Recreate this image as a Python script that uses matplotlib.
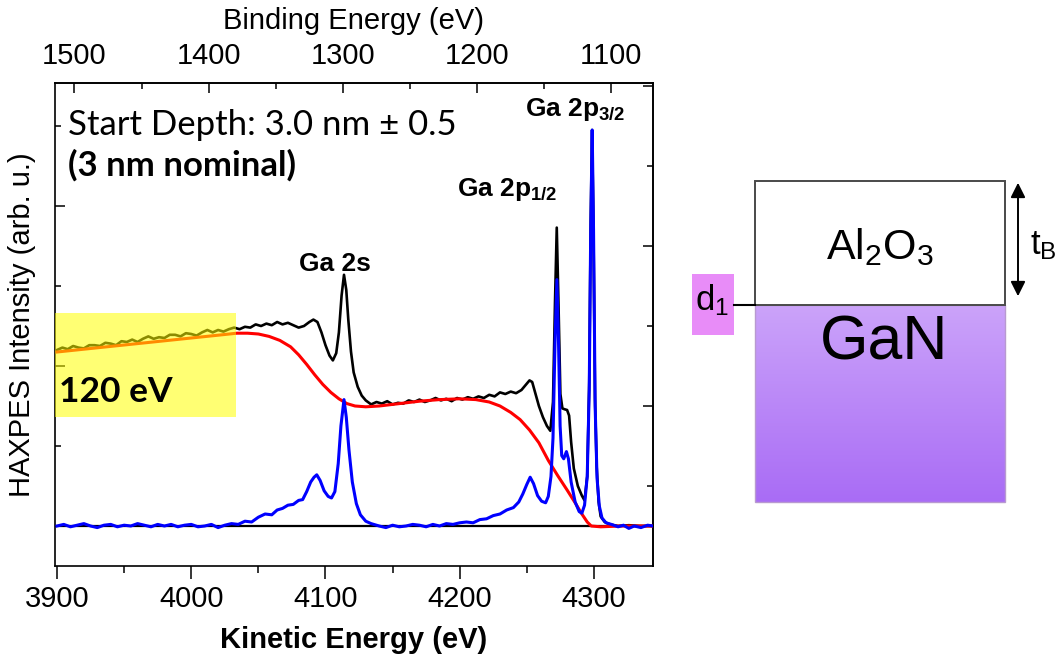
import numpy as np
import matplotlib
matplotlib.use("Agg")
import matplotlib.pyplot as plt
from matplotlib.patches import Rectangle
from matplotlib.colors import LinearSegmentedColormap

plt.rcParams['font.family'] = ['Liberation Sans', 'DejaVu Sans']
plt.rcParams['mathtext.fontset'] = 'custom'
plt.rcParams['mathtext.rm'] = 'Liberation Sans'
plt.rcParams['mathtext.bf'] = 'Liberation Sans:bold'
plt.rcParams['mathtext.it'] = 'Liberation Sans:italic'

# ---- data (kinetic energy in eV, intensity in arb. u.) ----
ke_total = [3900, 3904, 3908, 3912, 3916, 3920, 3924, 3928, 3932, 3936, 3940, 3944, 3948, 3952,
            3956, 3960, 3964, 3968, 3972, 3976, 3980, 3984, 3988, 3992, 3996, 4000, 4004, 4008,
            4012, 4016, 4020, 4024, 4028, 4032, 4036, 4040, 4044, 4048, 4052, 4056, 4060, 4064,
            4068, 4072, 4076, 4080, 4084, 4088, 4091, 4094, 4097, 4100, 4103, 4105.5, 4108, 4110,
            4112, 4113.8, 4115.5, 4117, 4119, 4121, 4124, 4127, 4130, 4134, 4138, 4142, 4146, 4150,
            4154, 4158, 4162, 4166, 4170, 4174, 4178, 4182, 4186, 4190, 4194, 4198, 4202, 4206,
            4210, 4214, 4218, 4222, 4226, 4230, 4234, 4238, 4242, 4246, 4249, 4252, 4254, 4256,
            4259, 4262, 4265, 4267.5, 4269.5, 4271, 4272.3, 4273.5, 4275, 4276.5, 4278, 4280,
            4281.5, 4283, 4285, 4288, 4291, 4293, 4295, 4296.5, 4297.6, 4298.6, 4299.6, 4300.8,
            4302, 4303.5, 4305, 4308, 4312, 4318, 4326, 4334, 4344]
int_total = [2.20, 2.23, 2.21, 2.25, 2.23, 2.22, 2.26, 2.26, 2.25, 2.29, 2.28, 2.26, 2.31, 2.30,
             2.33, 2.30, 2.34, 2.37, 2.34, 2.36, 2.35, 2.39, 2.39, 2.37, 2.41, 2.40, 2.38, 2.42,
             2.45, 2.42, 2.45, 2.43, 2.46, 2.48, 2.46, 2.49, 2.48, 2.52, 2.50, 2.53, 2.51, 2.55,
             2.52, 2.54, 2.51, 2.48, 2.50, 2.55, 2.58, 2.55, 2.42, 2.26, 2.13, 2.07, 2.16, 2.42,
             2.88, 3.14, 2.95, 2.58, 2.18, 1.92, 1.74, 1.63, 1.57, 1.52, 1.55, 1.53, 1.56, 1.52,
             1.54, 1.53, 1.57, 1.55, 1.58, 1.55, 1.57, 1.60, 1.57, 1.59, 1.56, 1.60, 1.58, 1.61,
             1.59, 1.62, 1.60, 1.64, 1.62, 1.67, 1.65, 1.68, 1.66, 1.70, 1.76, 1.82, 1.80, 1.68,
             1.50, 1.36, 1.25, 1.19, 1.55, 2.80, 3.73, 2.85, 1.65, 1.47, 1.46, 1.45,
             1.38, 1.05, 0.72, 0.50, 0.38, 0.32, 0.62, 1.80, 3.80, 4.95, 3.80, 1.60,
             0.75, 0.30, 0.12, 0.05, 0.02, 0.00, 0.01, 0.00, 0.00]

ke_bg = [3900, 3920, 3940, 3960, 3980, 4000, 4020, 4034, 4042, 4050, 4058, 4066, 4074, 4080,
         4086, 4092, 4098, 4104, 4110, 4116, 4122, 4130, 4140, 4155, 4170, 4185, 4200, 4212,
         4222, 4230, 4238, 4245, 4252, 4259, 4266, 4273, 4280, 4286, 4291, 4295, 4298, 4305,
         4320, 4344]
int_bg = [2.175, 2.21, 2.245, 2.28, 2.315, 2.35, 2.385, 2.41, 2.41, 2.40, 2.37, 2.32, 2.24, 2.14,
          2.02, 1.89, 1.77, 1.67, 1.59, 1.53, 1.50, 1.49, 1.50, 1.53, 1.56, 1.58, 1.59, 1.58,
          1.55, 1.50, 1.42, 1.33, 1.20, 1.04, 0.82, 0.63, 0.45, 0.29, 0.15, 0.05, 0.00, -0.01,
          0.00, 0.00]

ke_sub = [3900, 3905, 3910, 3915, 3920, 3925, 3930, 3935, 3940, 3945, 3950, 3955, 3960, 3965,
          3970, 3975, 3980, 3985, 3990, 3995, 4000, 4005, 4010, 4015, 4020, 4025, 4030, 4035,
          4040, 4045, 4050, 4055, 4060, 4064, 4068, 4072, 4076, 4080, 4083, 4086, 4089, 4091.5,
          4093.5, 4096, 4099, 4102, 4104.5, 4107, 4109.5, 4111.5, 4113.8, 4115.5, 4117.5, 4120,
          4123, 4126, 4130, 4134, 4140, 4145, 4150, 4155, 4160, 4165, 4170, 4175, 4180, 4185,
          4190, 4195, 4200, 4205, 4210, 4215, 4220, 4225, 4230, 4235, 4240, 4244, 4247, 4250,
          4252.5, 4255, 4258, 4261, 4264, 4266, 4268, 4269.5, 4271, 4272.4, 4273.5, 4274.8, 4276,
          4277.5, 4279.5, 4281, 4283, 4286, 4289, 4291, 4293, 4295, 4296.5, 4297.6, 4298.7,
          4299.7, 4300.9, 4302.3, 4304, 4306, 4309, 4313, 4318, 4322, 4326, 4330, 4335, 4340, 4344]
int_sub = [0.00, 0.02, -0.01, 0.01, 0.03, 0.00, -0.02, 0.01, 0.02, -0.01, 0.01, 0.00, 0.03, 0.01,
           -0.01, 0.02, 0.00, 0.02, -0.01, 0.01, 0.02, -0.01, 0.00, 0.02, -0.02, 0.01, 0.03, 0.02,
           0.06, 0.05, 0.11, 0.15, 0.14, 0.20, 0.22, 0.26, 0.27, 0.32, 0.33, 0.43, 0.55, 0.61,
           0.64, 0.57, 0.44, 0.37, 0.35, 0.43, 0.78, 1.25, 1.58, 1.36, 0.95, 0.55,
           0.28, 0.14, 0.06, 0.03, 0.00, -0.02, 0.01, -0.01, 0.00, 0.02, 0.01, -0.01, 0.02, 0.00,
           0.03, 0.02, 0.04, 0.05, 0.04, 0.08, 0.09, 0.13, 0.15, 0.20, 0.23, 0.30, 0.40, 0.52,
           0.61, 0.53, 0.38, 0.31, 0.29, 0.37, 0.62, 1.10, 2.30, 3.08, 2.40, 1.25, 0.88,
           0.84, 0.93, 0.84, 0.55, 0.30, 0.18, 0.16, 0.26, 0.62, 1.70, 3.70, 4.95,
           3.70, 1.50, 0.60, 0.25, 0.10, 0.04, 0.02, -0.01, 0.01, -0.03, 0.00, -0.02, 0.01, 0.00]

window_ke = (3898.5, 4033)      # highlighted 120 eV window
window_int = (1.36, 2.66)
be_offset = 5413                # binding = be_offset - kinetic

peak_labels = ['Ga 2s', r'$\mathbf{Ga\ 2p_{1/2}}$', r'$\mathbf{Ga\ 2p_{3/2}}$']
peak_pos = [(4080, 3.28), (4198, 4.2), (4249, 5.2)]

fig = plt.figure(figsize=(10.64, 6.66), dpi=100)

# ---------------- spectrum panel ----------------
ax = fig.add_axes([55/1064, 100/666, 598/1064, 483/666])
ax.axhline(0, color='black', lw=1.6, zorder=1)
ax.plot(ke_total, int_total, color='black', lw=1.9, zorder=2)
ax.plot(ke_bg, int_bg, color='#ff0000', lw=2.2, zorder=3)
ax.plot(ke_sub, int_sub, color='#0000ff', lw=2.2, zorder=4)

ax.add_patch(Rectangle((window_ke[0], window_int[0]), window_ke[1]-window_ke[0],
                       window_int[1]-window_int[0], facecolor='#ffff00', alpha=0.55,
                       edgecolor='none', zorder=5))
ax.text(3901.5, 1.68, '120 eV', fontsize=25.5, fontweight='bold', family=['Lato', 'DejaVu Sans'],
        va='center', ha='left', zorder=6)

ax.text(0.022, 0.913, 'Start Depth: 3.0 nm \u00b1 0.5', transform=ax.transAxes, fontsize=25,
        family=['Lato', 'DejaVu Sans'], va='center', ha='left')
ax.text(0.022, 0.83, '(3 nm nominal)', transform=ax.transAxes, fontsize=25, fontweight='bold',
        family=['Lato', 'DejaVu Sans'], va='center', ha='left')

for lab, (px, py) in zip(peak_labels, peak_pos):
    ax.text(px, py, lab, fontsize=19, fontweight='bold', ha='left', va='center')

ax.set_xlim(3898.5, 4344)
ax.set_ylim(-0.5, 5.5375)
ax.set_xticks([3900, 4000, 4100, 4200, 4300])
ax.set_xticks([3950, 4050, 4150, 4250], minor=True)
ax.set_yticks([0, 2, 4])
ax.set_yticks([1, 3, 5], minor=True)
ax.tick_params(axis='x', which='both', direction='out', labelsize=21, pad=5, width=1.1)
ax.tick_params(axis='x', which='major', length=9)
ax.tick_params(axis='x', which='minor', length=5)
ax.tick_params(axis='y', which='both', direction='in', left=True, right=False,
               labelleft=False, width=1.1)
ax.tick_params(axis='y', which='major', length=7)
ax.tick_params(axis='y', which='minor', length=4.5)
for s in ax.spines.values():
    s.set_linewidth(1.2)
ax.set_xlabel('Kinetic Energy (eV)', fontsize=21, fontweight='bold', labelpad=9)
ax.set_ylabel('HAXPES Intensity (arb. u.)', fontsize=21, labelpad=14)

right = ax.secondary_yaxis('right')
right.set_yticks([1.5, 3.5, 5.5])
right.set_yticks([0.5, 2.5, 4.5], minor=True)
right.tick_params(which='both', direction='in', labelright=False, width=1.1)
right.tick_params(which='major', length=7)
right.tick_params(which='minor', length=4.5)
right.spines['right'].set_linewidth(1.2)

top = ax.secondary_xaxis('top', functions=(lambda k: be_offset - k, lambda b: be_offset - b))
top.set_xticks([1500, 1400, 1300, 1200, 1100])
top.set_xticks([1450, 1350, 1250, 1150], minor=True)
top.tick_params(which='both', direction='in', labelsize=21, pad=9, width=1.1)
top.tick_params(which='major', length=7)
top.tick_params(which='minor', length=4.5)
top.spines['top'].set_linewidth(1.2)
top.set_xlabel('Binding Energy (eV)', fontsize=21, labelpad=10)

# ---------------- layer schematic ----------------
ax2 = fig.add_axes([660/1064, 0, 404/1064, 1])
ax2.set_axis_off()
grad = LinearSegmentedColormap.from_list('gan', ['#cba3fa', '#a96cf5'])
ax2.imshow(np.linspace(0, 1, 200).reshape(-1, 1), cmap=grad, aspect='auto',
           extent=(755, 1005, 502, 305), zorder=1)
ax2.add_patch(Rectangle((755, 305), 250, 197, facecolor='none', edgecolor='#b89ad0', lw=1.0, zorder=2))
ax2.add_patch(Rectangle((755, 181), 250, 124, facecolor='white', edgecolor='#4a4a4a', lw=1.4, zorder=2))
ax2.add_patch(Rectangle((692, 274), 42, 61, facecolor='#e88cf8', edgecolor='none', zorder=1))
ax2.plot([734, 755], [305, 305], color='black', lw=1.5, zorder=3)
ax2.annotate('', xy=(1018, 180), xytext=(1018, 299),
             arrowprops=dict(arrowstyle='<|-|>', color='black', lw=1.4, mutation_scale=22))
ax2.text(880, 247, r'$\mathrm{Al_2O_3}$', fontsize=31, ha='center', va='center')
ax2.text(884, 343, 'GaN', fontsize=45, ha='center', va='center')
ax2.text(712, 300, r'$\mathrm{d_1}$', fontsize=25, ha='center', va='center')
ax2.text(1043, 245, r'$\mathrm{t_B}$', fontsize=25, ha='center', va='center')
ax2.set_xlim(660, 1064)
ax2.set_ylim(666, 0)

fig.savefig('out.png', dpi=100)
